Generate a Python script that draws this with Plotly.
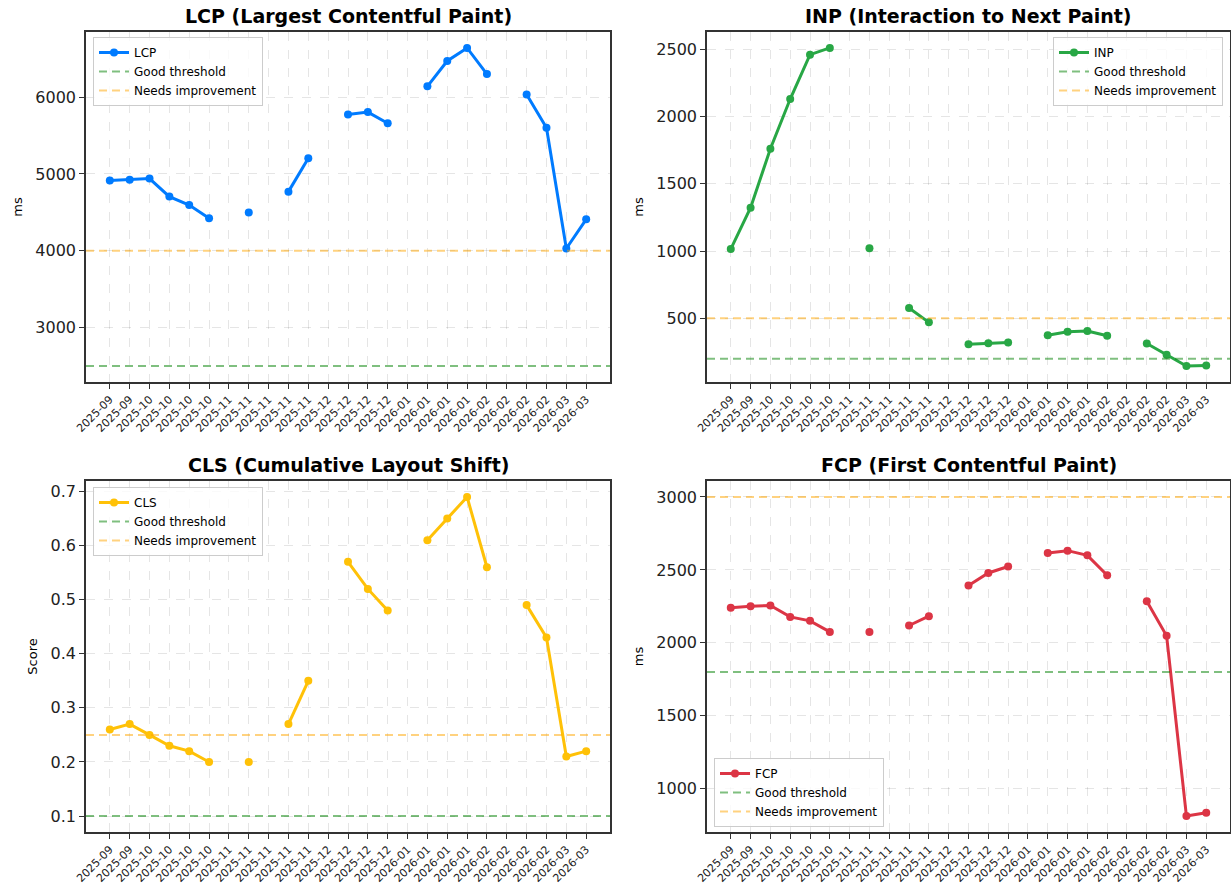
import plotly.graph_objects as go

# ---------------- data ----------------
months = ["2025-09", "2025-09", "2025-10", "2025-10", "2025-10", "2025-10",
          "2025-11", "2025-11", "2025-11", "2025-11", "2025-11",
          "2025-12", "2025-12", "2025-12", "2025-12",
          "2026-01", "2026-01", "2026-01", "2026-01",
          "2026-02", "2026-02", "2026-02", "2026-02",
          "2026-03", "2026-03"]

lcp = [4915, 4925, 4940, 4705, 4595, 4425, None, 4500, None, 4770, 5205, None,
       5775, 5805, 5660, None, 6140, 6470, 6640, 6300, None, 6035, 5600, 4030, 4410]
inp = [1015, 1322, 1760, 2130, 2460, 2510, None, 1020, None, 577, 470, None,
       307, 314, 320, None, 375, 400, 406, 370, None, 313, 230, 145, 150]
cls = [0.26, 0.27, 0.25, 0.23, 0.22, 0.20, None, 0.20, None, 0.27, 0.35, None,
       0.57, 0.52, 0.48, None, 0.61, 0.65, 0.69, 0.56, None, 0.49, 0.43, 0.21, 0.22]
fcp = [2240, 2251, 2256, 2178, 2151, 2075, None, 2075, None, 2119, 2183, None,
       2393, 2479, 2523, None, 2616, 2632, 2600, 2463, None, 2285, 2048, 813, 836]

good_thr = {"LCP": 2500, "INP": 200, "CLS": 0.1, "FCP": 1800}
ni_thr = {"LCP": 4000, "INP": 500, "CLS": 0.25, "FCP": 3000}

titles = {"LCP": "LCP (Largest Contentful Paint)",
          "INP": "INP (Interaction to Next Paint)",
          "CLS": "CLS (Cumulative Layout Shift)",
          "FCP": "FCP (First Contentful Paint)"}
ylabels = {"LCP": "ms", "INP": "ms", "CLS": "Score", "FCP": "ms"}
colors = {"LCP": "#007bff", "INP": "#28a745", "CLS": "#ffc107", "FCP": "#dc3545"}
dticks = {"LCP": 1000, "INP": 500, "CLS": 0.1, "FCP": 500}
series = {"LCP": lcp, "INP": inp, "CLS": cls, "FCP": fcp}

# ---------------- layout helpers ----------------
W, H = 1231, 893
FONT = "DejaVu Sans"

# panel boxes in pixels (left, right, top, bottom)
boxes = {"LCP": (86, 610, 32, 382), "INP": (707, 1230, 32, 382),
         "CLS": (86, 610, 481, 832), "FCP": (707, 1230, 481, 832)}
legend_pos = {"LCP": (93, 37, "left", "top"), "INP": (1223, 37, "right", "top"),
              "CLS": (93, 487, "left", "top"), "FCP": (714, 827, "left", "bottom")}

x_idx = list(range(len(months)))
n = len(months)
xpad = 0.05 * (n - 1)

fig = go.Figure()
layout = dict(width=W, height=H, margin=dict(l=0, r=0, t=0, b=0),
              paper_bgcolor="white", plot_bgcolor="white",
              font=dict(family=FONT, color="black"), showlegend=True,
              annotations=[], shapes=[])

for i, key in enumerate(["LCP", "INP", "CLS", "FCP"]):
    k = "" if i == 0 else str(i + 1)
    xa, ya = "x" + k, "y" + k
    leg = "legend" + k
    l, r, t, b = boxes[key]
    vals = series[key]
    # matplotlib-style autoscale including threshold lines
    allv = [v for v in vals if v is not None] + [good_thr[key], ni_thr[key]]
    lo, hi = min(allv), max(allv)
    pad = 0.05 * (hi - lo)

    fig.add_trace(go.Scatter(x=x_idx, y=vals, mode="lines+markers", name=key,
                             line=dict(color=colors[key], width=3),
                             marker=dict(color=colors[key], size=8),
                             connectgaps=False, xaxis=xa, yaxis=ya, legend=leg))
    fig.add_trace(go.Scatter(x=[None], y=[None], mode="lines", name="Good threshold",
                             line=dict(color="rgba(0,128,0,0.5)", width=2, dash="8px,5px"),
                             xaxis=xa, yaxis=ya, legend=leg))
    fig.add_trace(go.Scatter(x=[None], y=[None], mode="lines", name="Needs improvement",
                             line=dict(color="rgba(255,165,0,0.5)", width=2, dash="8px,5px"),
                             xaxis=xa, yaxis=ya, legend=leg))

    for thr, col in ((good_thr[key], "rgba(0,128,0,0.5)"), (ni_thr[key], "rgba(255,165,0,0.5)")):
        layout["shapes"].append(dict(type="line", xref=xa + " domain", yref=ya,
                                     x0=0, x1=1, y0=thr, y1=thr,
                                     line=dict(color=col, width=2, dash="8px,5px"),
                                     layer="above"))

    layout["xaxis" + k] = dict(domain=[l / W, r / W], anchor=ya,
                               range=[-xpad, n - 1 + xpad],
                               tickmode="array", tickvals=x_idx, ticktext=months,
                               tickangle=-45, tickfont=dict(size=11, family=FONT, color="#222"),
                               ticks="outside", ticklen=5, tickwidth=1.2, tickcolor="#333",
                               showline=True, linecolor="#333", linewidth=1.5, mirror=True,
                               showgrid=True, gridcolor="rgba(0,0,0,0.1)", griddash="dash",
                               gridwidth=1, zeroline=False, automargin=False)
    layout["yaxis" + k] = dict(domain=[1 - b / H, 1 - t / H], anchor=xa,
                               range=[lo - pad, hi + pad], dtick=dticks[key],
                               tickformat=".1f" if key == "CLS" else "d",
                               tickfont=dict(size=16, family=FONT, color="#222"),
                               ticks="outside", ticklen=5, tickwidth=1.2, tickcolor="#333",
                               showline=True, linecolor="#333", linewidth=1.5, mirror=True,
                               showgrid=True, gridcolor="rgba(0,0,0,0.1)", griddash="dash",
                               gridwidth=1, zeroline=False, automargin=False,
                               title=dict(text=ylabels[key], font=dict(size=13, family=FONT),
                                          standoff=10))
    lx, ly, xan, yan = legend_pos[key]
    layout[leg] = dict(x=lx / W, y=1 - ly / H, xanchor=xan, yanchor=yan,
                       bgcolor="rgba(255,255,255,0.8)", bordercolor="#cccccc", borderwidth=1,
                       font=dict(size=12, family=FONT), tracegroupgap=0,
                       itemwidth=30)
    layout["annotations"].append(dict(text="<b>" + titles[key] + "</b>", xref="paper", yref="paper",
                                      x=(l + r) / 2 / W, y=1 - (t - 16) / H,
                                      xanchor="center", yanchor="middle", showarrow=False,
                                      font=dict(size=19, family=FONT, color="black")))

fig.update_layout(**layout)
fig.write_html("out.html", config={"displayModeBar": False},
               post_script="document.body.style.margin='0';document.body.style.overflow='hidden';")
